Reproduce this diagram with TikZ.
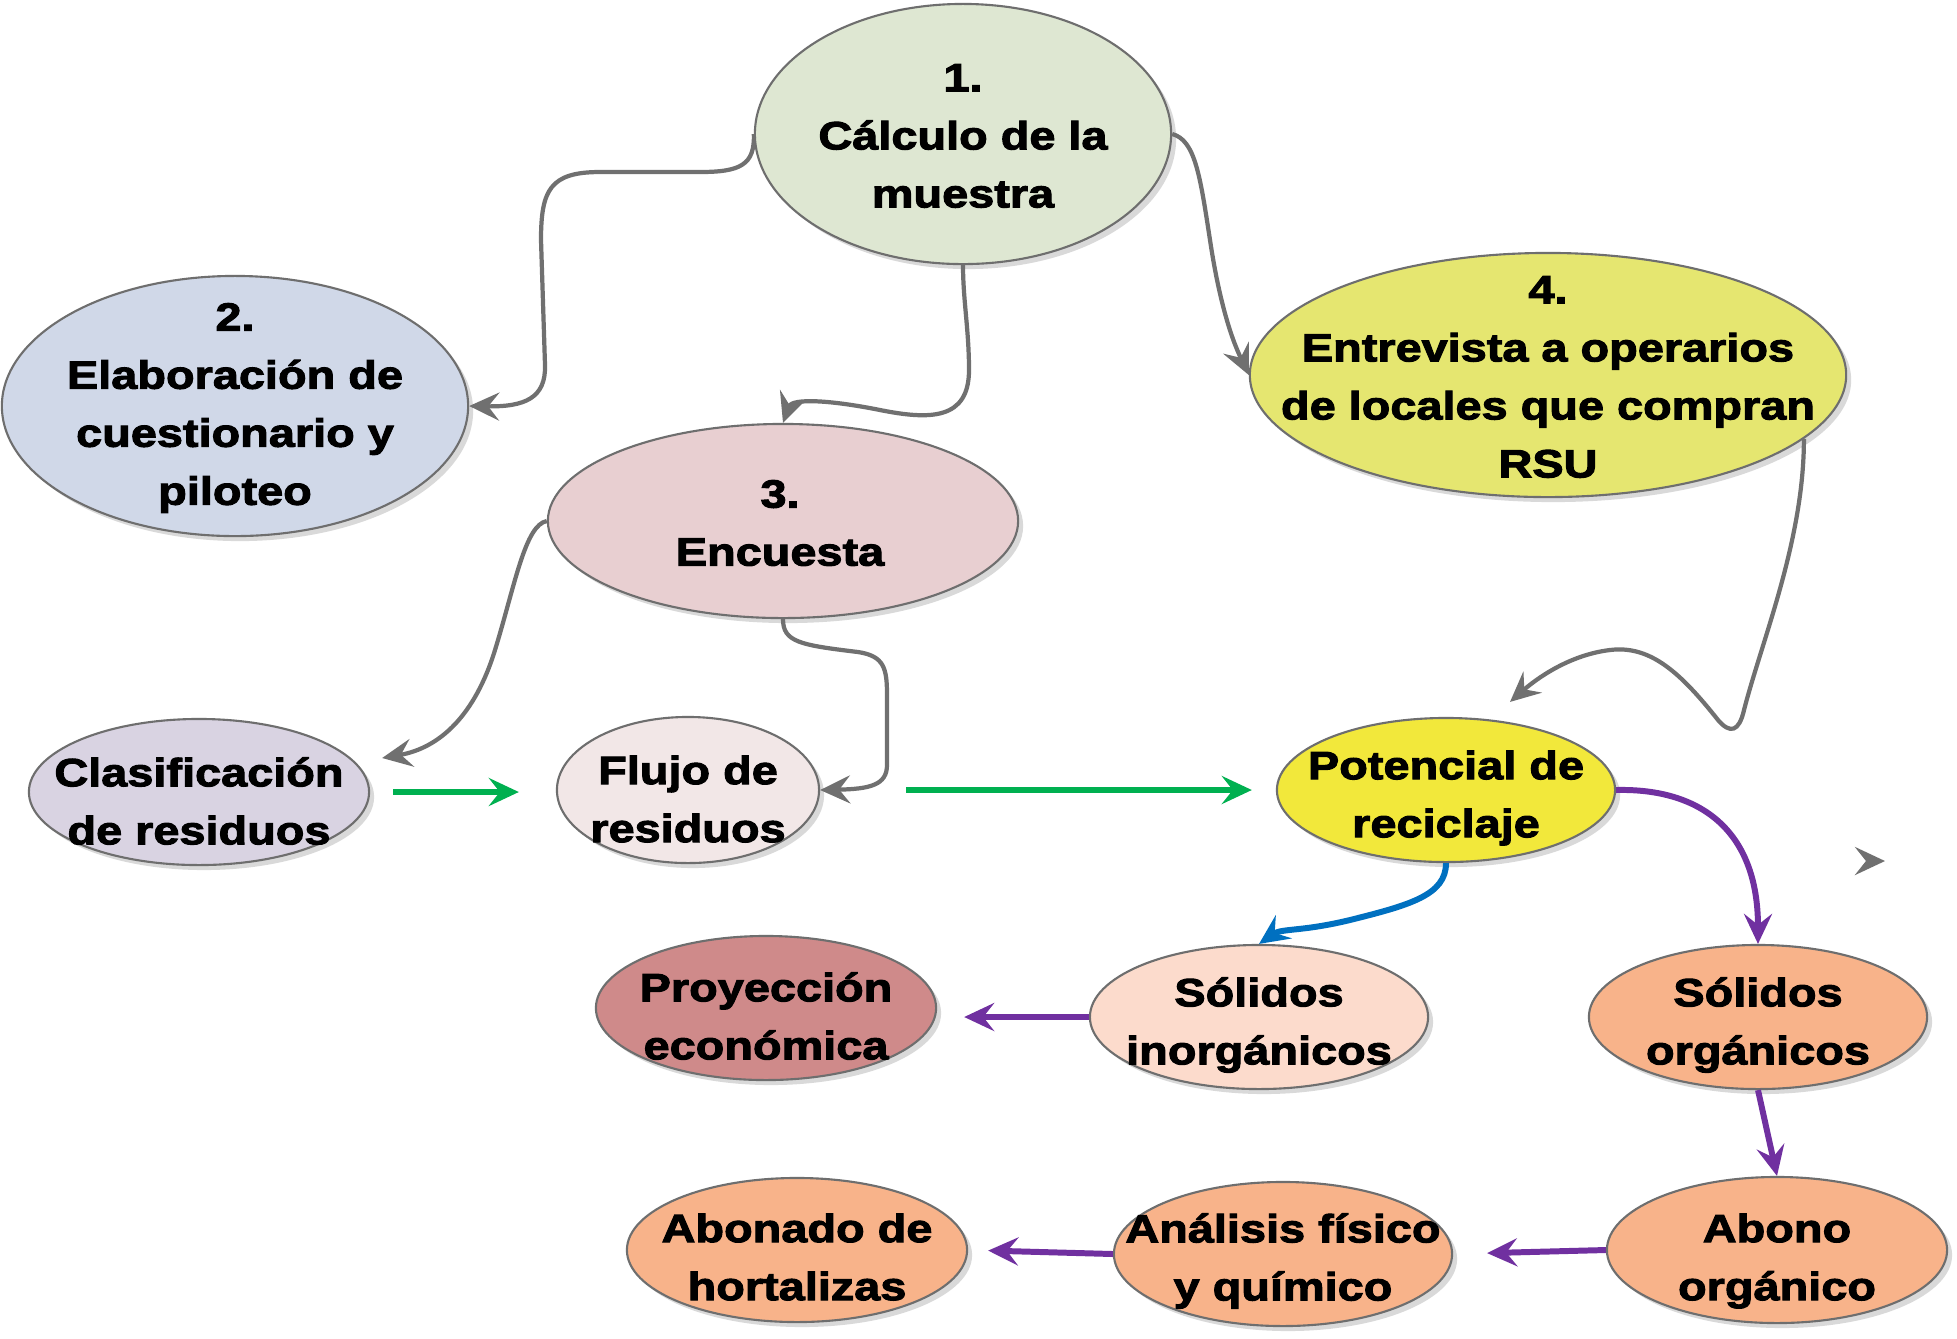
\documentclass[tikz,border=0pt]{standalone}
\usepackage{fontspec}
\newfontfamily\etiqfont{Liberation Sans}[FakeStretch=1.19, FakeBold=2.6]
\usetikzlibrary{shapes.geometric,shadows,arrows.meta,calc}

\definecolor{verdeA}{HTML}{DEE7D2}
\definecolor{azulA}{HTML}{D0D8E8}
\definecolor{rosaA}{HTML}{E8CFD1}
\definecolor{amarA}{HTML}{E5E670}
\definecolor{lilaA}{HTML}{D9D3E2}
\definecolor{rosaB}{HTML}{F2E7E7}
\definecolor{amarB}{HTML}{F2E83B}
\definecolor{rosaC}{HTML}{CF8A8A}
\definecolor{salmonA}{HTML}{FCDBCC}
\definecolor{salmonB}{HTML}{F8B38A}
\definecolor{bordeG}{HTML}{6E6E6E}
\definecolor{flechaG}{HTML}{707070}
\definecolor{flechaV}{HTML}{00B050}
\definecolor{flechaM}{HTML}{7030A0}
\definecolor{flechaA}{HTML}{0070C0}

\tikzset{
  bubble/.style={ellipse, draw=bordeG, line width=0.6pt, inner sep=0pt,
    drop shadow={shadow xshift=0.05cm, shadow yshift=-0.05cm, fill=black, opacity=0.15}},
  lbl/.style={align=center, inner sep=0pt, font=\etiqfont\bfseries\fontsize{11.2}{16.5}\selectfont},
  punta/.style={-{Stealth[length=3mm, width=2.8mm, inset=1.1mm]}},
  gris/.style={punta, draw=flechaG, line width=1.2pt},
  verde/.style={punta, draw=flechaV, line width=1.7pt},
  morado/.style={punta, draw=flechaM, line width=1.7pt},
  azul/.style={punta, draw=flechaA, line width=1.7pt}
}

\begin{document}
\begin{tikzpicture}[x=0.01cm, y=-0.01cm]
    \useasboundingbox (0, 0) rectangle (1957, 1338);
    \fill[white] (0, 0) rectangle (1957, 1338);

    % Upper stages
    \node[bubble, fill=verdeA, minimum width=4.16cm, minimum height=2.60cm] (calc) at (963, 134) {};
    \node[lbl] (calc-t) at ($(calc) + (0, 2)$) {1.\\Cálculo de la\\muestra};
    \node[bubble, fill=azulA, minimum width=4.66cm, minimum height=2.60cm] (cuest) at (235, 406) {};
    \node[lbl] (cuest-t) at ($(cuest) + (0, 2)$) {2.\\Elaboración de\\cuestionario y\\piloteo};
    \node[bubble, fill=rosaA, minimum width=4.70cm, minimum height=1.94cm] (encu) at (783, 521) {};
    \node[lbl] (encu-t) at ($(encu) + (-3, 2)$) {3.\\Encuesta};
    \node[bubble, fill=amarA, minimum width=5.96cm, minimum height=2.44cm] (entrev) at (1548, 375) {};
    \node[lbl] (entrev-t) at ($(entrev) + (0, 2)$) {4.\\Entrevista a operarios\\de locales que compran\\RSU};

    % Middle row
    \node[bubble, fill=lilaA, minimum width=3.40cm, minimum height=1.46cm] (clasif) at (199, 792) {};
    \node[lbl] (clasif-t) at ($(clasif) + (0, 9)$) {Clasificación\\de residuos};
    \node[bubble, fill=rosaB, minimum width=2.62cm, minimum height=1.46cm] (flujo) at (688, 790) {};
    \node[lbl] (flujo-t) at ($(flujo) + (0, 9)$) {Flujo de\\residuos};
    \node[bubble, fill=amarB, minimum width=3.38cm, minimum height=1.44cm] (poten) at (1446, 790) {};
    \node[lbl] (poten-t) at ($(poten) + (0, 8)$) {Potencial de\\reciclaje};

    % Lower rows
    \node[bubble, fill=rosaC, minimum width=3.40cm, minimum height=1.44cm] (proy) at (766, 1008) {};
    \node[lbl] (proy-t) at ($(proy) + (0, 8)$) {Proyección\\económica};
    \node[bubble, fill=salmonA, minimum width=3.38cm, minimum height=1.44cm] (inorg) at (1259, 1017) {};
    \node[lbl] (inorg-t) at ($(inorg) + (0, 8)$) {Sólidos\\inorgánicos};
    \node[bubble, fill=salmonB, minimum width=3.38cm, minimum height=1.44cm] (organ) at (1758, 1017) {};
    \node[lbl] (organ-t) at ($(organ) + (0, 8)$) {Sólidos\\orgánicos};
    \node[bubble, fill=salmonB, minimum width=3.40cm, minimum height=1.46cm] (abono) at (1777, 1250) {};
    \node[lbl] (abono-t) at ($(abono) + (0, 11)$) {Abono\\orgánico};
    \node[bubble, fill=salmonB, minimum width=3.38cm, minimum height=1.44cm] (analis) at (1283, 1254) {};
    \node[lbl] (analis-t) at ($(analis) + (0, 7)$) {Análisis físico\\y químico};
    \node[bubble, fill=salmonB, minimum width=3.40cm, minimum height=1.44cm] (abonado) at (797, 1250) {};
    \node[lbl] (abonado-t) at ($(abonado) + (0, 7)$) {Abonado de\\hortalizas};

    % Grey connectors from the first stages
    \draw[gris] (calc.west) .. controls (755, 165) and (740, 172) .. (700, 172) -- (600, 172)
        .. controls (550, 172) and (541, 190) .. (541, 240) -- (545, 365)
        .. controls (546, 398) and (525, 407) .. (cuest.east);
    \draw[gris] (calc.south) .. controls (963, 300) and (969, 330) .. (969, 370)
        .. controls (969, 420) and (930, 420) .. (880, 410)
        .. controls (830, 400) and (792, 398) .. (encu.north);
    \draw[gris] (calc.east) .. controls (1195, 140) and (1200, 175) .. (1210, 240)
        .. controls (1222, 320) and (1238, 352) .. (entrev.west);
    \draw[gris] (encu.west) .. controls (525, 525) and (515, 585) .. (495, 650)
        .. controls (475, 715) and (440, 748) .. ($(clasif.east) + (12, -34)$);
    \draw[gris] (encu.south) .. controls (783, 642) and (800, 645) .. (858, 652)
        .. controls (884, 656) and (887, 668) .. (887, 695) -- (887, 765)
        .. controls (887, 785) and (870, 789) .. (flujo.east);
    \draw[gris] (entrev.-14) .. controls (1804, 540) and (1762, 640) .. (1744, 710)
        .. controls (1739, 732) and (1730, 734) .. (1718, 720)
        .. controls (1680, 672) and (1650, 645) .. (1610, 650)
        .. controls (1568, 655) and (1535, 680) .. ($(poten.north) + (64, -15)$);

    % Loose arrow head
    \coordinate (suelta) at (1885, 861);
    \draw[gris] ($(suelta) + (-6, 0)$) -- (suelta);

    % Green flow
    \draw[verde, shorten <=0.23cm, shorten >=0.37cm] (clasif.east) -- (clasif.east -| flujo.west);
    \draw[verde, shorten <=0.86cm, shorten >=0.24cm] (flujo.east) -- (poten.west);

    % Recycling branches
    \draw[azul] (poten.south) .. controls (1446, 895) and (1410, 905) .. (1350, 920)
        .. controls (1300, 932) and (1282, 928) .. (inorg.north);
    \draw[morado] (poten.east) .. controls (1700, 788) and (1758, 830) .. (organ.north);
    \draw[morado, shorten >=0.27cm] (inorg.west) -- (inorg.west -| proy.east);
    \draw[morado] (organ.south) -- (abono.north);
    \draw[morado, shorten >=0.34cm] (abono.west) -- (analis.east);
    \draw[morado, shorten >=0.20cm] (analis.west) -- (abonado.east);
\end{tikzpicture}
\end{document}
